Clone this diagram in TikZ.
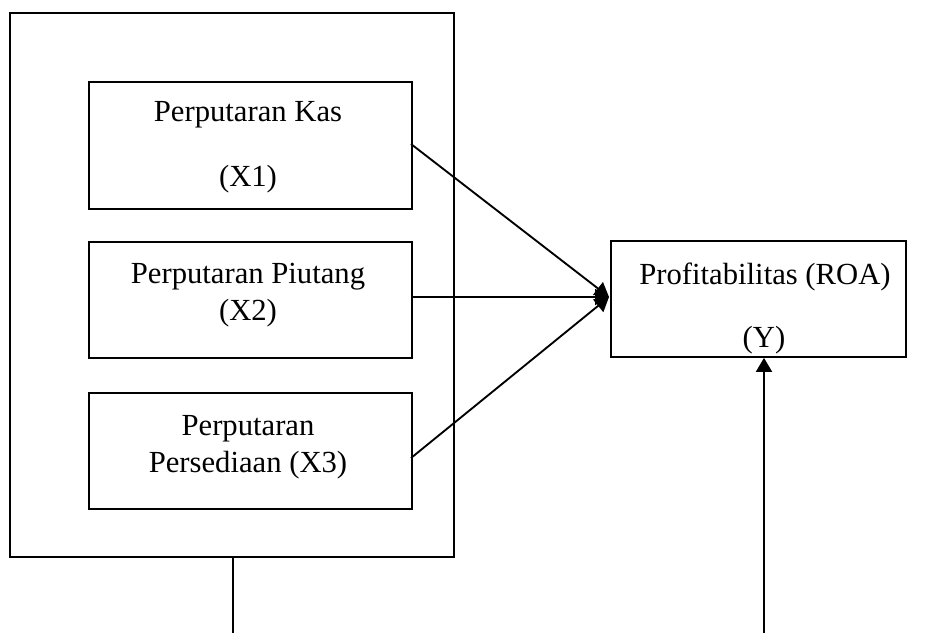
\documentclass[tikz,border=0pt]{standalone}
\usepackage{fontspec}
\setmainfont{Liberation Serif}
\usetikzlibrary{arrows.meta}
\begin{document}
\begin{tikzpicture}[x=0.75pt,y=-0.75pt,
  box/.style={draw,line width=1.4pt,inner sep=0pt,anchor=north west},
  lbl/.style={font=\fontsize{23}{27}\selectfont,inner sep=0pt,anchor=base},
  conn/.style={line width=1.4pt},
  arr/.style={line width=1.4pt,-{Triangle[length=10.5pt,width=12pt]}}]
\useasboundingbox (0,0) rectangle (929,633);
\node[box,minimum width=444*0.75pt,minimum height=544*0.75pt] (outer) at (9,12) {};
\node[box,minimum width=323*0.75pt,minimum height=127*0.75pt] (b1) at (88,81) {};
\node[box,minimum width=323*0.75pt,minimum height=116*0.75pt] (b2) at (88,241) {};
\node[box,minimum width=323*0.75pt,minimum height=116*0.75pt] (b3) at (88,392) {};
\node[box,minimum width=295*0.75pt,minimum height=116*0.75pt] (y) at (610,240) {};
\node[lbl] at (248,121) {Perputaran Kas};
\node[lbl] at (248,186) {(X1)};
\node[lbl] at (248,283) {Perputaran Piutang};
\node[lbl] at (248,320) {(X2)};
\node[lbl] at (248,435) {Perputaran};
\node[lbl] at (248,472) {Persediaan (X3)};
\node[lbl] at (765,284) {Profitabilitas (ROA)};
\node[lbl] at (764,347) {(Y)};
\coordinate (s1) at (411,144);
\coordinate (s2) at (411,297);
\coordinate (s3) at (411,458);
\coordinate (t) at (609,297);
\coordinate (bot1) at (233,633);
\coordinate (bot2) at (764,633);
\draw[arr] (s1) -- (t);
\draw[arr] (s2) -- (t);
\draw[arr] (s3) -- (t);
\draw[conn] (outer.south -| bot1) -- (bot1);
\draw[arr] (bot2) -- (y.south -| bot2);
\end{tikzpicture}
\end{document}
